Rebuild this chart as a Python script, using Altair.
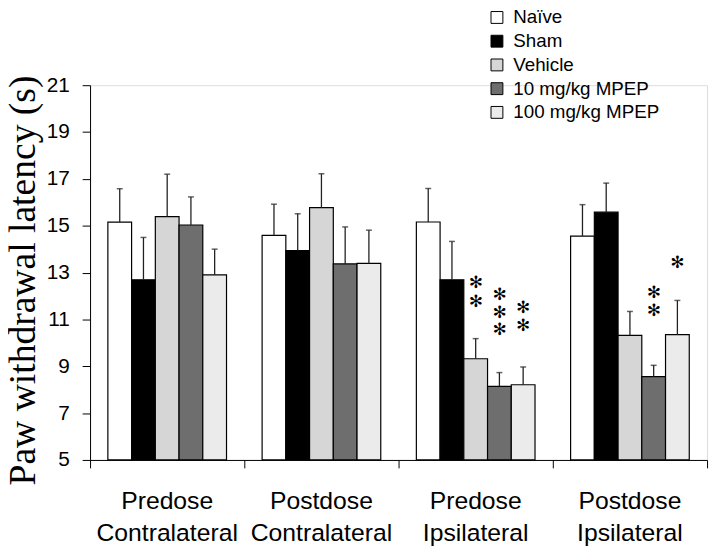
import altair as alt
import pandas as pd

groups = ["Predose Contralateral", "Postdose Contralateral", "Predose Ipsilateral", "Postdose Ipsilateral"]
series = ["Naïve", "Sham", "Vehicle", "10 mg/kg MPEP", "100 mg/kg MPEP"]
colors = ["#ffffff", "#000000", "#d6d6d6", "#6e6e6e", "#ebebeb"]

means = [
    [15.15, 12.69, 15.39, 15.03, 12.90],
    [14.59, 13.94, 15.77, 13.37, 13.39],
    [15.16, 12.69, 9.32, 8.14, 8.21],
    [14.56, 15.58, 10.32, 8.56, 10.35],
]
sems = [
    [1.43, 1.81, 1.81, 1.20, 1.10],
    [1.33, 1.57, 1.45, 1.58, 1.42],
    [1.43, 1.64, 0.86, 0.59, 0.76],
    [1.34, 1.24, 1.02, 0.48, 1.46],
]

ast_group = [2, 2, 2, 2, 2, 2, 2, 3, 3, 3]
ast_series = [2, 2, 3, 3, 3, 4, 4, 3, 3, 4]
ast_value = [12.56, 11.75, 12.05, 11.29, 10.53, 11.50, 10.70, 12.13, 11.37, 13.40]

boundaries = [0, 1, 2, 3, 4]
y_ticks = [5, 7, 9, 11, 13, 15, 17, 19, 21]

rows = []
for gi, g in enumerate(groups):
    for si, s in enumerate(series):
        rows.append({"group": g, "series": s, "mean": means[gi][si],
                     "upper": round(means[gi][si] + sems[gi][si], 3)})
df = pd.DataFrame(rows)

ast_df = pd.DataFrame({
    "group": [groups[i] for i in ast_group],
    "series": [series[i] for i in ast_series],
    "value": ast_value,
    "mark": ["✻"] * len(ast_value),
})
bdf = pd.DataFrame({"b": boundaries})

x_enc = alt.X("group:N", sort=groups,
              scale=alt.Scale(paddingInner=0, paddingOuter=0),
              axis=alt.Axis(title=None, ticks=False, domain=True, domainColor="black",
                            labelExpr="split(datum.label, ' ')",
                            labelFont="Liberation Sans", labelFontSize=25,
                            labelLineHeight=32, labelPadding=29, labelColor="black",
                            labelAngle=0, orient="bottom"))
xo_enc = alt.XOffset("series:N", sort=series,
                     scale=alt.Scale(paddingInner=0, paddingOuter=0.75))
y_scale = alt.Scale(domain=[5, 21], nice=False, zero=False)

bars = alt.Chart(df).mark_bar(stroke="black", strokeWidth=1.2).encode(
    x=x_enc,
    xOffset=xo_enc,
    y=alt.Y("mean:Q", scale=y_scale,
            axis=alt.Axis(values=y_ticks, tickSize=8, tickColor="black",
                          domainColor="black", grid=False,
                          labelFont="Liberation Sans", labelFontSize=21,
                          labelColor="black", labelPadding=13,
                          title="Paw withdrawal latency (s)",
                          titleFont="Liberation Serif", titleFontSize=38,
                          titleFontWeight="normal", titleColor="black",
                          titleAngle=270, titleX=-56, titleY=197,
                          titleAlign="center", titleBaseline="alphabetic")),
    y2=alt.Y2Datum(5),
    fill=alt.Fill("series:N", sort=series,
                  scale=alt.Scale(domain=series, range=colors),
                  legend=alt.Legend(title=None, orient="none", legendX=402, legendY=-78,
                                    symbolType="square", symbolSize=144,
                                    symbolStrokeColor="black", symbolStrokeWidth=1,
                                    labelFont="Liberation Sans", labelFontSize=19,
                                    labelColor="black", labelOffset=7,
                                    rowPadding=4, padding=0, labelLimit=300)),
)

err = alt.Chart(df).mark_rule(color="#222222", strokeWidth=1.3).encode(
    x=alt.X("group:N", sort=groups), xOffset=xo_enc,
    y=alt.Y("mean:Q", scale=y_scale), y2="upper:Q",
)
caps = alt.Chart(df).mark_tick(color="#222222", size=6, thickness=1.5).encode(
    x=alt.X("group:N", sort=groups), xOffset=xo_enc,
    y=alt.Y("upper:Q", scale=y_scale),
)
stars = alt.Chart(ast_df).mark_text(font="DejaVu Sans", fontSize=17, color="black",
                                    baseline="middle", align="center").encode(
    x=alt.X("group:N", sort=groups), xOffset=xo_enc,
    y=alt.Y("value:Q", scale=y_scale),
    text="mark:N",
)

main = alt.layer(bars, err, caps, stars)

tickl = alt.Chart(bdf).mark_point(opacity=0).encode(
    x=alt.X("b:Q", scale=alt.Scale(domain=[0, 4], nice=False, zero=False),
            axis=alt.Axis(values=boundaries, labels=False, tickSize=8, tickColor="black",
                          domain=False, grid=False, title=None, orient="bottom")),
)

chart = alt.layer(main, tickl).resolve_scale(x="independent").resolve_axis(x="independent").properties(
    width=624, height=379,
    autosize=alt.AutoSizeParams(type="none"),
    padding={"left": 83, "top": 75, "right": 5, "bottom": 88},
).configure_view(stroke=None).configure(background="white")

chart.save("out.html", embed_options={"renderer": "svg", "actions": False})
